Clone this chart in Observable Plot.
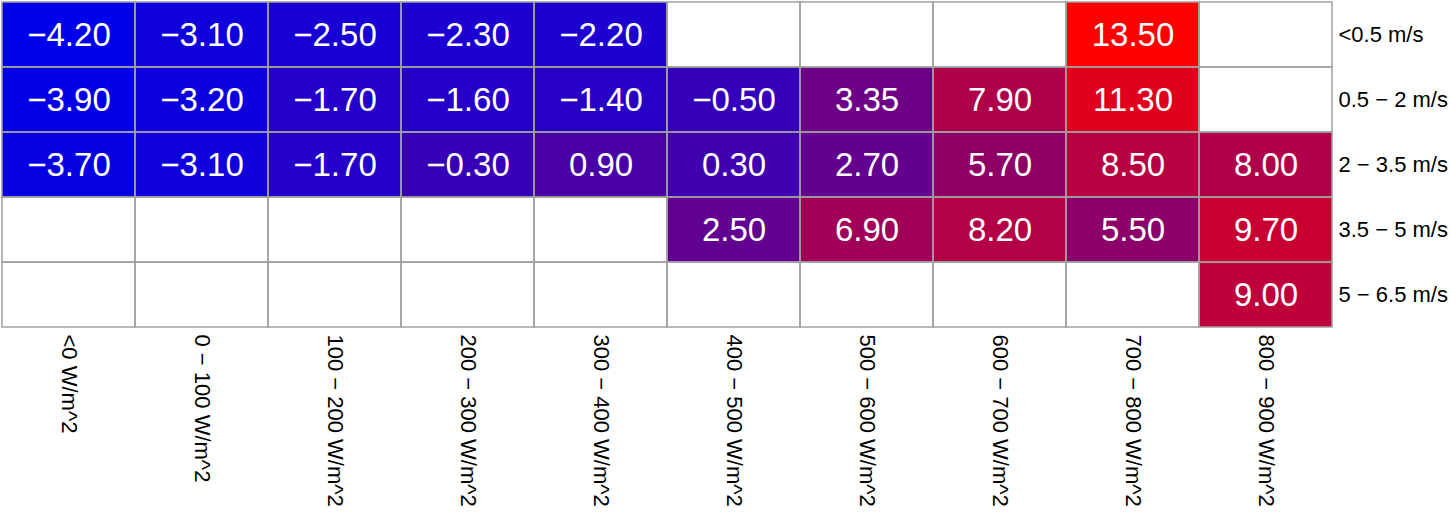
<!DOCTYPE html>
<html>
<head>
<meta charset="utf-8">
<script src="https://cdn.jsdelivr.net/npm/d3@7"></script>
<script src="https://cdn.jsdelivr.net/npm/@observablehq/plot@0.6"></script>
<style>
  html, body { margin: 0; padding: 0; background: #fff; }
  svg { display: block; }
</style>
</head>
<body>
<div id="chart"></div>
<script>
const irradiance = ["<0 W/m^2", "0 − 100 W/m^2", "100 − 200 W/m^2", "200 − 300 W/m^2", "300 − 400 W/m^2",
  "400 − 500 W/m^2", "500 − 600 W/m^2", "600 − 700 W/m^2", "700 − 800 W/m^2", "800 − 900 W/m^2"];
const windSpeed = ["<0.5 m/s", "0.5 − 2 m/s", "2 − 3.5 m/s", "3.5 − 5 m/s", "5 − 6.5 m/s"];
const row1 = [-4.2, -3.1, -2.5, -2.3, -2.2, null, null, null, 13.5, null];
const row2 = [-3.9, -3.2, -1.7, -1.6, -1.4, -0.5, 3.35, 7.9, 11.3, null];
const row3 = [-3.7, -3.1, -1.7, -0.3, 0.9, 0.3, 2.7, 5.7, 8.5, 8.0];
const row4 = [null, null, null, null, null, 2.5, 6.9, 8.2, 5.5, 9.7];
const row5 = [null, null, null, null, null, null, null, null, null, 9.0];
const rows = [row1, row2, row3, row4, row5];

const all = [];
rows.forEach((r, i) => r.forEach((v, j) => all.push({x: irradiance[j], y: windSpeed[i], v})));
const filled = all.filter(d => d.v != null);
const fmt = d3.format(".2f");

const chart = Plot.plot({
  width: 1451,
  height: 513,
  marginLeft: 1,
  marginTop: 1,
  marginRight: 119,
  marginBottom: 185,
  style: {fontFamily: "'Liberation Sans', Arial, Helvetica, sans-serif", background: "#fff"},
  x: {domain: irradiance, padding: 0, axis: null},
  y: {domain: windSpeed, padding: 0, axis: null},
  color: {type: "linear", domain: [-4.2, 13.5], range: ["#0000ea", "#ff0000"], interpolate: "rgb"},
  marks: [
    Plot.cell(filled, {x: "x", y: "y", fill: "v"}),
    Plot.text(filled, {x: "x", y: "y", text: d => fmt(d.v), fill: "white", fontSize: 33}),
    Plot.cell(all, {x: "x", y: "y", fill: "none", stroke: "#a0a0a0", strokeWidth: 1.5}),
    Plot.axisY({anchor: "right", tickSize: 0, tickPadding: 6, fontSize: 22, label: null, color: "black"}),
    Plot.axisX({anchor: "bottom", tickSize: 0, tickPadding: 6, tickRotate: 90, fontSize: 22, label: null, color: "black"})
  ]
});
document.getElementById("chart").appendChild(chart);
</script>
</body>
</html>
